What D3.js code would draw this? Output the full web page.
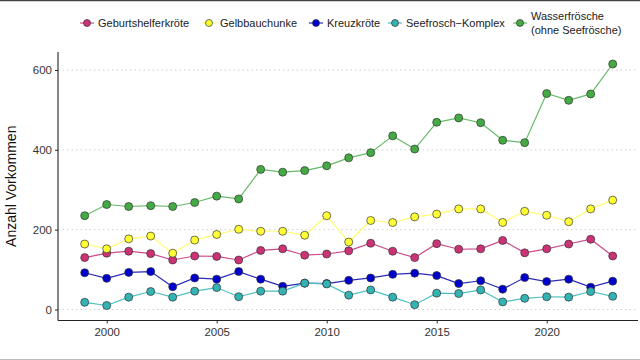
<!DOCTYPE html>
<html><head><meta charset="utf-8">
<script src="https://cdn.jsdelivr.net/npm/d3@7"></script>
<style>body{margin:0;background:#fff}svg{display:block}</style>
</head><body>
<svg id="c" width="640" height="360"></svg>
<script>
const years = d3.range(1999, 2024);
const seriesNames = ["Geburtshelferkröte","Gelbbauchunke","Kreuzkröte","Seefrosch\u2212Komplex","Wasserfrösche\n(ohne Seefrösche)"];
const geburtshelferkroete = [130,141,146,140,124,134,133,124,148,152,136,139,147,166,146,130,165,151,152,173,142,152,164,176,134];
const gelbbauchunke = [164,152,177,184,141,174,188,201,196,196,186,235,169,223,218,232,239,252,252,218,246,236,220,252,274];
const kreuzkroete = [92,78,93,95,57,79,76,95,76,58,66,65,73,79,88,91,85,65,72,51,80,70,76,56,71];
const seefrosch = [18,10,31,45,31,46,55,32,46,46,66,64,36,49,31,12,41,40,49,19,28,32,31,45,33];
const wasserfroesche = [235,263,258,260,258,268,284,277,351,344,348,360,380,393,435,402,469,480,468,424,418,541,524,540,615];
const yTicks = [0,200,400,600];
const xTicks = [2000,2005,2010,2015,2020];

const fills = ["#cc3377","#ffff33","#0000cc","#33b3b3","#44aa44"];
const lineCols = ["#cc4a88","#ffff70","#2a2ab8","#4cc0c0","#66bb66"];
const data = [geburtshelferkroete, gelbbauchunke, kreuzkroete, seefrosch, wasserfroesche];

const svg = d3.select("#c");
const font = "'Liberation Sans', Arial, sans-serif";
const x = d3.scaleLinear().domain([2000,2020]).range([106.7,546.7]);
const y = d3.scaleLinear().domain([0,600]).range([309.5,70]);
const L = 58, R = 638, T = 52, B = 320.5;

// frame lines
svg.append("line").attr("x1",0).attr("x2",640).attr("y1",0.5).attr("y2",0.5).attr("stroke","#444").attr("stroke-width",1.5);
svg.append("line").attr("x1",0).attr("x2",640).attr("y1",359.5).attr("y2",359.5).attr("stroke","#bbb").attr("stroke-width",1);

// grid
svg.append("g").selectAll("line").data(yTicks).join("line")
  .attr("x1",L).attr("x2",R).attr("y1",d=>y(d)).attr("y2",d=>y(d))
  .attr("stroke","#cfcfcf").attr("stroke-width",1).attr("stroke-dasharray","1.5,3");

// axes
const ya = svg.append("g").attr("transform",`translate(${L},0)`)
  .call(d3.axisLeft(y).tickValues(yTicks).tickSize(3).tickPadding(3));
ya.select(".domain").remove();
const xa = svg.append("g").attr("transform",`translate(0,${B})`)
  .call(d3.axisBottom(x).tickValues(xTicks).tickFormat(d3.format("d")).tickSize(3).tickPadding(4));
xa.select(".domain").remove();
[ya,xa].forEach(g=>{
  g.selectAll("text").attr("font-family",font).attr("font-size",11.5).attr("fill","#333");
  g.selectAll("line").attr("stroke","#333");
});
svg.append("line").attr("x1",L).attr("x2",L).attr("y1",T).attr("y2",B).attr("stroke","#222").attr("stroke-width",1.1);
svg.append("line").attr("x1",L).attr("x2",R).attr("y1",B).attr("y2",B).attr("stroke","#222").attr("stroke-width",1.1);

svg.append("text").attr("transform",`translate(16,${(T+B)/2}) rotate(-90)`)
  .attr("text-anchor","middle").attr("font-family",font).attr("font-size",14).attr("fill","#111")
  .text("Anzahl Vorkommen");

// series
const line = d3.line().x((d,i)=>x(years[i])).y(d=>y(d));
data.forEach((s,k)=>{
  svg.append("path").datum(s).attr("d",line).attr("fill","none")
    .attr("stroke",lineCols[k]).attr("stroke-width",1.2);
});
data.forEach((s,k)=>{
  svg.append("g").selectAll("circle").data(s).join("circle")
    .attr("cx",(d,i)=>x(years[i])).attr("cy",d=>y(d)).attr("r",4)
    .attr("fill",fills[k]).attr("stroke","#333").attr("stroke-width",0.7);
});

// legend
const legX = [87,209,316,395,520];
const legG = svg.append("g");
seriesNames.forEach((n,k)=>{
  const cx = legX[k], cy = 23;
  legG.append("line").attr("x1",cx-7).attr("x2",cx+7).attr("y1",cy).attr("y2",cy).attr("stroke",lineCols[k]).attr("stroke-width",1.2);
  legG.append("circle").attr("cx",cx).attr("cy",cy).attr("r",3.5).attr("fill",fills[k]).attr("stroke","#333").attr("stroke-width",0.7);
  const lines = n.split("\n");
  const t = legG.append("text").attr("font-family",font).attr("font-size",11).attr("fill","#222");
  lines.forEach((ln,j)=>{
    t.append("tspan").attr("x",cx+11).attr("y", cy + 4 + (j - (lines.length-1)/2)*13.5).text(ln);
  });
});
</script>
</body></html>
